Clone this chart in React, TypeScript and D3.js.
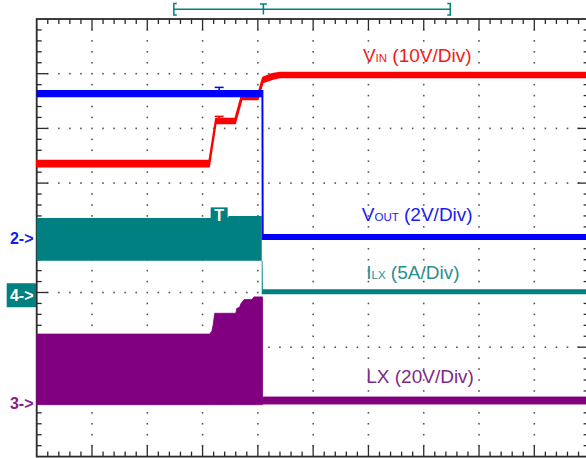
import React from 'react';
import * as d3 from 'd3';

const W = 586;
const H = 458;

// Horizontal: screen divisions (-5..5); vertical: screen divisions (-4..4)
const vinTime = [-5, -1.88, -1.76, -1.41, -1.29, -1.0, -0.91, -0.74, -0.6, 5];
const vinHi = [1.41, 1.41, 2.18, 2.18, 2.62, 2.62, 2.93, 3.0, 3.02, 3.02];
const vinLo = [1.3, 1.3, 2.09, 2.09, 2.53, 2.53, 2.84, 2.9, 2.93, 2.93];

const voutTime = [-5, -0.935, -0.93, -0.9, -0.895, 5];
const voutHi = [2.7, 2.7, 2.7, 2.7, 0.07, 0.07];
const voutLo = [2.57, 2.57, -0.04, -0.04, -0.04, -0.04];

const ilxTime = [-5, -1.54, -1.53, -0.93, -0.93, -0.915, -0.91, 5];
const ilxHi = [0.36, 0.36, 0.4, 0.4, -0.42, -0.42, -0.94, -0.94];
const ilxLo = [-0.42, -0.42, -0.42, -0.42, -1.03, -1.03, -1.03, -1.03];

const lxTime = [-5, -1.87, -1.83, -1.81, -1.78, -1.4, -1.38, -1.33, -1.31, -1.25, -1.11, -1.07, -1.02, -0.915, -0.915, 5];
const lxHi = [-1.76, -1.76, -1.7, -1.6, -1.38, -1.38, -1.29, -1.27, -1.21, -1.13, -1.13, -1.08, -1.08, -1.08, -2.91, -2.91];
const lxLo = [-3.05, -3.05, -3.05, -3.05, -3.05, -3.05, -3.05, -3.05, -3.05, -3.05, -3.05, -3.05, -3.05, -3.05, -3.04, -3.04];

// channel ground markers
const channelIds = ['2', '4', '3'];
const channelLevels = [0, -1.05, -3.02];

// trigger / memory window
const windowStart = -2.52;
const windowEnd = 2.48;
const triggerTime = -0.9;
const cursorTime = -1.7;
const cursorVinLevel = 2.22;
const cursorVoutLevel = 2.75;
const triggerBoxLevel = 0.41;

// trace labels
const labelMain = ['V', 'V', 'I', 'LX'];
const labelSub = ['IN', 'OUT', 'LX', ''];
const labelScale = ['(10V/Div)', '(2V/Div)', '(5A/Div)', '(20V/Div)'];
const labelTime = [0.9, 0.88, 0.96, 0.96];
const labelLevel = [3.21, 0.31, -0.75, -2.65];

const traceColors = ['#ff0000', '#0000ff', '#008080', '#800080'];
const labelColors = ['#f01a1a', '#1a1af0', '#2a8e8e', '#7e2a88'];
const markerColors = ['#1a1af0', '#008080', '#8a1a8a'];

export default function App() {
  const x = d3.scaleLinear().domain([-5, 5]).range([36.7, 589.6]);
  const y = d3.scaleLinear().domain([-4, 4]).range([456.6, 19]);

  const mkArea = (t: number[], hi: number[], lo: number[]) => {
    const pts = t.map((v, i) => ({ t: v, hi: hi[i], lo: lo[i] }));
    return d3
      .area<{ t: number; hi: number; lo: number }>()
      .x((d) => x(d.t))
      .y0((d) => y(d.lo))
      .y1((d) => y(d.hi))(pts) as string;
  };

  const minor = d3.range(-25, 26).map((i) => i * 0.2);
  const minorY = d3.range(-20, 21).map((i) => i * 0.2);
  const majorX = d3.range(-4, 5);
  const majorY = d3.range(-3, 4);

  const dots: { cx: number; cy: number }[] = [];
  majorX.forEach((mx) => {
    minorY.forEach((my) => {
      if (Math.abs(my) < 3.99) dots.push({ cx: x(mx), cy: y(my) });
    });
  });
  majorY.forEach((my) => {
    minor.forEach((mx) => {
      if (Math.abs(mx) < 4.99 && Math.abs(mx - Math.round(mx)) > 0.01) dots.push({ cx: x(mx), cy: y(my) });
    });
  });

  const isMajor = (v: number) => Math.abs(v - Math.round(v)) < 0.01;
  const frame = '#2a2a2a';
  const font = 'Liberation Sans, Arial, sans-serif';

  return (
    <svg width={W} height={H} style={{ position: 'fixed', left: 0, top: 0, background: '#fff' }}>
      <rect x={0} y={0} width={W} height={H} fill="#fff" />
      {/* grid dots */}
      {dots.map((d, i) => (
        <rect key={i} x={d.cx - 0.8} y={d.cy - 0.8} width={1.6} height={1.6} fill="#555" />
      ))}
      {/* frame ticks */}
      {minor.filter((v) => Math.abs(v) < 4.99).map((v, i) => (
        <g key={'tx' + i} stroke={frame} strokeWidth={1.3}>
          <line x1={x(v)} x2={x(v)} y1={y(4)} y2={y(4) + (isMajor(v) ? 11 : 5)} />
          <line x1={x(v)} x2={x(v)} y1={y(-4)} y2={y(-4) - (isMajor(v) ? 11 : 5)} />
        </g>
      ))}
      {minorY.filter((v) => Math.abs(v) < 3.99).map((v, i) => (
        <g key={'ty' + i} stroke={frame} strokeWidth={1.3}>
          <line x1={x(-5)} x2={x(-5) + (isMajor(v) ? 11 : 5)} y1={y(v)} y2={y(v)} />
          <line x1={x(5)} x2={x(5) - (isMajor(v) ? 12 : 6)} y1={y(v)} y2={y(v)} />
        </g>
      ))}
      <rect x={x(-5)} y={y(4)} width={x(5) - x(-5)} height={y(-4) - y(4)} fill="none" stroke={frame} strokeWidth={1.8} />

      {/* traces */}
      <path d={mkArea(lxTime, lxHi, lxLo)} fill={traceColors[3]} stroke={traceColors[3]} strokeWidth={0.8} strokeLinejoin="round" />
      <path d={mkArea(ilxTime, ilxHi, ilxLo)} fill={traceColors[2]} />
      <path d={mkArea(vinTime, vinHi, vinLo)} fill={traceColors[0]} stroke={traceColors[0]} strokeWidth={1.6} strokeLinejoin="round" />
      <path d={mkArea(voutTime, voutHi, voutLo)} fill={traceColors[1]} />

      {/* cursor markers */}
      <g stroke={traceColors[0]} strokeWidth={1.5}>
        <line x1={x(cursorTime) - 4.5} x2={x(cursorTime) + 4.5} y1={y(cursorVinLevel)} y2={y(cursorVinLevel)} />
        <line x1={x(cursorTime)} x2={x(cursorTime)} y1={y(cursorVinLevel)} y2={y(cursorVinLevel) + 5} />
      </g>
      <g stroke={traceColors[1]} strokeWidth={1.5}>
        <line x1={x(cursorTime) - 4.5} x2={x(cursorTime) + 4.5} y1={y(cursorVoutLevel)} y2={y(cursorVoutLevel)} />
        <line x1={x(cursorTime)} x2={x(cursorTime)} y1={y(cursorVoutLevel)} y2={y(cursorVoutLevel) + 4} />
      </g>
      <rect x={x(cursorTime) - 8.5} y={y(triggerBoxLevel) - 8} width={17} height={16} fill={traceColors[2]} />
      <text x={x(cursorTime)} y={y(triggerBoxLevel) + 6} fill="#fff" fontFamily={font} fontSize={16} fontWeight="bold" textAnchor="middle">T</text>

      {/* memory window bracket */}
      <g stroke={traceColors[2]} strokeWidth={1.5} fill="none">
        <line x1={x(windowStart)} x2={x(windowEnd)} y1={9.3} y2={9.3} />
        <path d={`M${x(windowStart) + 3},3.5 H${x(windowStart)} V15 H${x(windowStart) + 3}`} />
        <path d={`M${x(windowEnd) - 3},3.5 H${x(windowEnd)} V15 H${x(windowEnd) - 3}`} />
        <line x1={x(triggerTime) - 3.5} x2={x(triggerTime) + 3.5} y1={4} y2={4} />
        <line x1={x(triggerTime)} x2={x(triggerTime)} y1={4} y2={14.5} />
      </g>

      {/* channel markers */}
      {channelIds.map((id, i) =>
        id === '4' ? (
          <g key={id}>
            <rect x={6.7} y={y(channelLevels[i]) - 12} width={29.3} height={24} fill={traceColors[2]} />
            <text x={33.5} y={y(channelLevels[i]) + 6} fill="#fff" fontFamily={font} fontSize={16} fontWeight="bold" textAnchor="end">{id + '->'}</text>
          </g>
        ) : (
          <text key={id} x={33.5} y={y(channelLevels[i]) + 6} fill={markerColors[i]} fontFamily={font} fontSize={16} fontWeight="bold" textAnchor="end">{id + '->'}</text>
        )
      )}

      {/* labels */}
      {labelMain.map((m, i) => (
        <text key={'l' + i} x={x(labelTime[i])} y={y(labelLevel[i])} fill={labelColors[i]} fontFamily={font} fontSize={19}>
          <tspan>{m}</tspan>
          {labelSub[i] ? <tspan fontSize={11.5}>{labelSub[i]}</tspan> : null}
          <tspan>{' ' + labelScale[i]}</tspan>
        </text>
      ))}
    </svg>
  );
}
